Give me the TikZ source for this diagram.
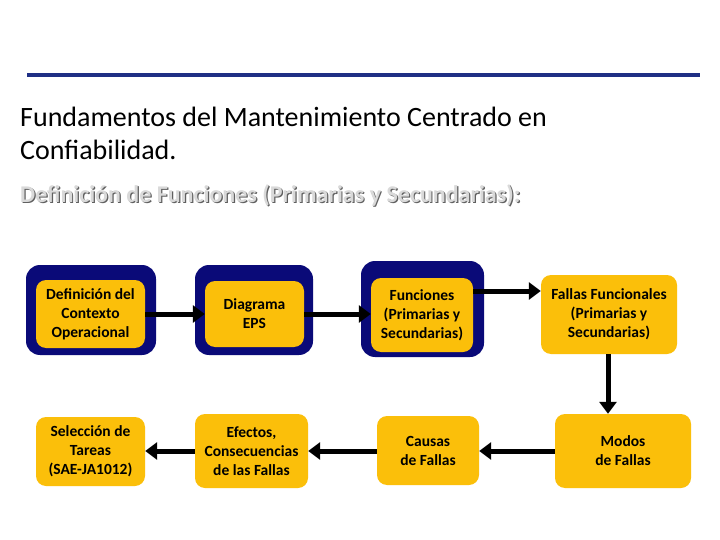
\documentclass[tikz,border=0pt]{standalone}
\usepackage{fontspec}
\setmainfont{Carlito}
\usetikzlibrary{arrows.meta}
\definecolor{navy}{HTML}{0A0A78}
\definecolor{gold}{HTML}{FBBF0A}
\definecolor{rule}{HTML}{1F2F85}
\begin{document}
\begin{tikzpicture}[x=1pt,y=-1pt,
  box/.style={fill=gold,rounded corners=10pt,align=center,font=\fontsize{15.5}{19}\selectfont\bfseries,inner sep=0pt},
  arr/.style={line width=5pt,-{Triangle[length=12pt,width=17pt]}}]
\useasboundingbox (0,0) rectangle (720,540);
\fill[white] (0,0) rectangle (720,540);
\draw[rule,line width=4pt] (27,75) -- (700,75);
\node[anchor=west,align=left,font=\fontsize{28}{33}\selectfont,inner sep=0pt] (title) at (20,133) {Fundamentos del Mantenimiento Centrado en\\Confiabilidad.};
\node[anchor=west,inner sep=0pt,font=\fontsize{24}{26}\selectfont\bfseries,text=gray!75!black] (sub0) at (21.2,196.2) {Definición de Funciones (Primarias y Secundarias):};
\node[anchor=west,inner sep=0pt,font=\fontsize{24}{26}\selectfont\bfseries,text=gray!30] (sub) at (20,195) {Definición de Funciones (Primarias y Secundarias):};
% top row navy frames
\fill[navy,rounded corners=14pt] (26,265) rectangle (156,355);
\fill[navy,rounded corners=14pt] (195,265) rectangle (313,355);
\fill[navy,rounded corners=14pt] (361,261) rectangle (484,357);
\node[box,minimum width=109pt,minimum height=68pt] (a) at (90.5,314) {Definición del\\Contexto\\Operacional};
\node[box,minimum width=99pt,minimum height=66pt] (b) at (254.5,314) {Diagrama\\EPS};
\node[box,minimum width=102pt,minimum height=74pt] (c) at (422,315) {Funciones\\(Primarias y\\Secundarias)};
\node[box,minimum width=136pt,minimum height=79pt] (d) at (609,314.5) {Fallas Funcionales\\(Primarias y\\Secundarias)};
\node[box,minimum width=136pt,minimum height=74pt] (e) at (623,451) {Modos\\de Fallas};
\node[box,minimum width=102pt,minimum height=69pt] (f) at (428,450.5) {Causas\\de Fallas};
\node[box,minimum width=113pt,minimum height=74pt] (g) at (251.5,451) {Efectos,\\Consecuencias\\de las Fallas};
\node[box,minimum width=109pt,minimum height=69pt] (h) at (90.5,451.5) {Selección de\\Tareas\\(SAE-JA1012)};
\coordinate (dd) at (608,0);
\coordinate (ry) at (0,451);
\draw[arr] (a.east |- 0,314) -- (b.west |- 0,314);
\draw[arr] (b.east |- 0,314) -- (c.west |- 0,314);
\draw[arr] (c.east |- 0,291) -- (d.west |- 0,291);
\draw[arr] (d.south -| dd) -- (e.north -| dd);
\draw[arr] (e.west |- ry) -- (f.east |- ry);
\draw[arr] (f.west |- ry) -- (g.east |- ry);
\draw[arr] (g.west |- ry) -- (h.east |- ry);
\end{tikzpicture}
\end{document}
